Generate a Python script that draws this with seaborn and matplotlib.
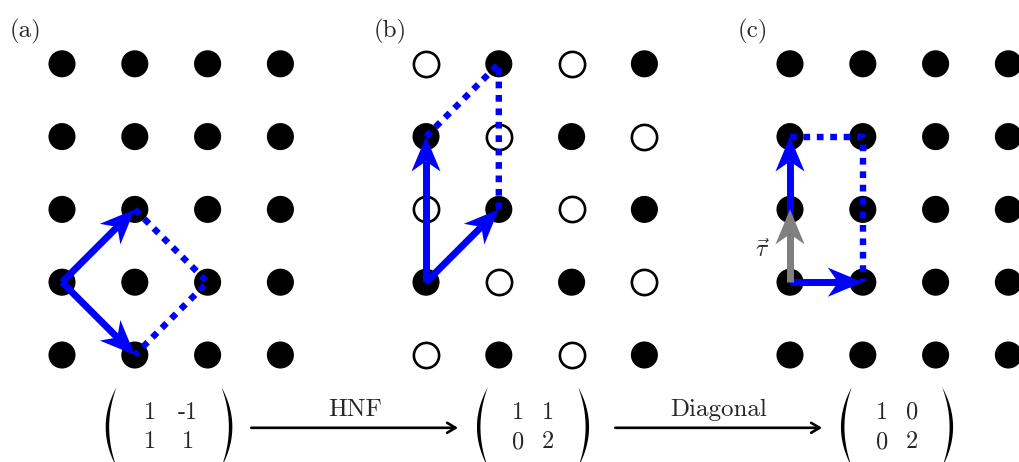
import numpy as np
import pandas as pd
import seaborn as sns
import matplotlib.pyplot as plt
from matplotlib.patches import Polygon

# lattice and panels
cols = [0, 1, 2, 3]
rows = [0, 1, 2, 3, 4]
panel_labels = ['(a)', '(b)', '(c)']
panel_shift = [0, 5, 10]
hollow_parity = [None, 0, None]   # panel (b) shows the points outside the sublattice

# basis vectors, all starting at the same lattice point
origin = (0, 1)
basis = [
    [(1, 1), (1, -1)],
    [(0, 2), (1, 1)],
    [(0, 2), (1, 0)],
]
tau = (0, 1)

# matrices under each panel and the steps between them
matrices = [
    [['1', '-1'], ['1', '1']],
    [['1', '1'], ['0', '2']],
    [['1', '0'], ['0', '2']],
]
steps = ['HNF', 'Diagonal']

BLUE = '#0000ff'
GREY = '#808080'

sns.set_theme(style='white')
plt.rcParams['mathtext.fontset'] = 'cm'
plt.rcParams['font.family'] = ['cmr10', 'DejaVu Serif']

pts = []
for p, sh in enumerate(panel_shift):
    for i in cols:
        for j in rows:
            hol = hollow_parity[p] is not None and (i + j) % 2 == hollow_parity[p]
            pts.append({'panel': p, 'x': sh + i, 'y': j, 'hollow': hol})
df = pd.DataFrame(pts)

fig = plt.figure(figsize=(10.19, 4.62), dpi=100)
ax = fig.add_axes([0, 0, 1, 1])
unit = 72.8
x0 = -62 / unit
y1 = 355 / unit
ax.set_xlim(x0, x0 + 1019 / unit)
ax.set_ylim(y1 - 462 / unit, y1)
ax.axis('off')

sns.scatterplot(data=df[~df.hollow], x='x', y='y', s=380, color='black',
                edgecolor='none', ax=ax, zorder=2, legend=False)
sns.scatterplot(data=df[df.hollow], x='x', y='y', s=330, facecolor='white',
                edgecolor='black', linewidth=1.9, ax=ax, zorder=2, legend=False)


def stealth(start, end, color, lw=5.0, L=0.48, W=0.40, notch=0.34, z=5):
    p0 = np.array(start, float)
    p1 = np.array(end, float)
    d = (p1 - p0) / np.linalg.norm(p1 - p0)
    n = np.array([-d[1], d[0]])
    back = p1 - L * d
    head = [p1, back + W / 2 * n, p1 - notch * d, back - W / 2 * n]
    se = p1 - notch * d
    ax.plot([p0[0], se[0]], [p0[1], se[1]], color=color, lw=lw,
            solid_capstyle='butt', zorder=z)
    ax.add_patch(Polygon(head, closed=True, facecolor=color, edgecolor='none', zorder=z))


def paren(xc, yc, side, h=0.55, s=0.15, t=0.048):
    # crescent-shaped bracket, thick in the middle
    yy = np.linspace(-h, h, 60)
    out = xc + side * s * (yy / h) ** 2
    inn = xc + side * (t + (s - t) * (yy / h) ** 2)
    xs = np.concatenate([out, inn[::-1]])
    ys = np.concatenate([yy, yy[::-1]]) + yc
    ax.add_patch(Polygon(np.column_stack([xs, ys]), closed=True,
                         facecolor='black', edgecolor='none'))


for p, sh in enumerate(panel_shift):
    o = np.array(origin, float) + [sh, 0]
    b1 = np.array(basis[p][0], float)
    b2 = np.array(basis[p][1], float)
    corners = np.array([o + b1, o + b1 + b2, o + b2])
    ax.plot(corners[:, 0], corners[:, 1], color=BLUE, lw=4.6,
            linestyle=(0, (1.05, 1.05)), dash_capstyle='butt', zorder=4)
    stealth(o, o + b1, BLUE)
    stealth(o, o + b2, BLUE)
    if p == 2:
        stealth(o, o + np.array(tau, float), GREY, z=6)
        ax.text(o[0] - 0.38, o[1] + 0.44, r'$\vec{\tau}$', fontsize=17,
                ha='center', va='center')
    ax.text(sh - 0.72, 4.45, panel_labels[p], fontsize=18, ha='left', va='center')

    # matrix below the panel
    m = matrices[p]
    mx = sh + 1.47
    my = -0.99
    wide = max(len(e) for r in m for e in r) > 1
    dx = 0.26 if wide else 0.21
    for r, row in enumerate(m):
        for c, e in enumerate(row):
            ax.text(mx + (c - 0.5) * 2 * dx, my + 0.2 - 0.41 * r, e, fontsize=17.5,
                    ha='center', va='center')
    pw = 0.87 if wide else 0.77
    paren(mx - pw, my, 1)
    paren(mx + pw, my, -1)

for k, lab in enumerate(steps):
    sh = panel_shift[k]
    xa, xb = sh + 2.60, sh + 5.44
    ax.annotate('', xy=(xb, -1.0), xytext=(xa, -1.0),
                arrowprops=dict(arrowstyle='->,head_length=0.5,head_width=0.3',
                                lw=1.9, color='black', shrinkA=0, shrinkB=0))
    ax.text((xa + xb) / 2, -0.9, lab, fontsize=18, ha='center', va='bottom')

fig.savefig('out.png', dpi=100)
